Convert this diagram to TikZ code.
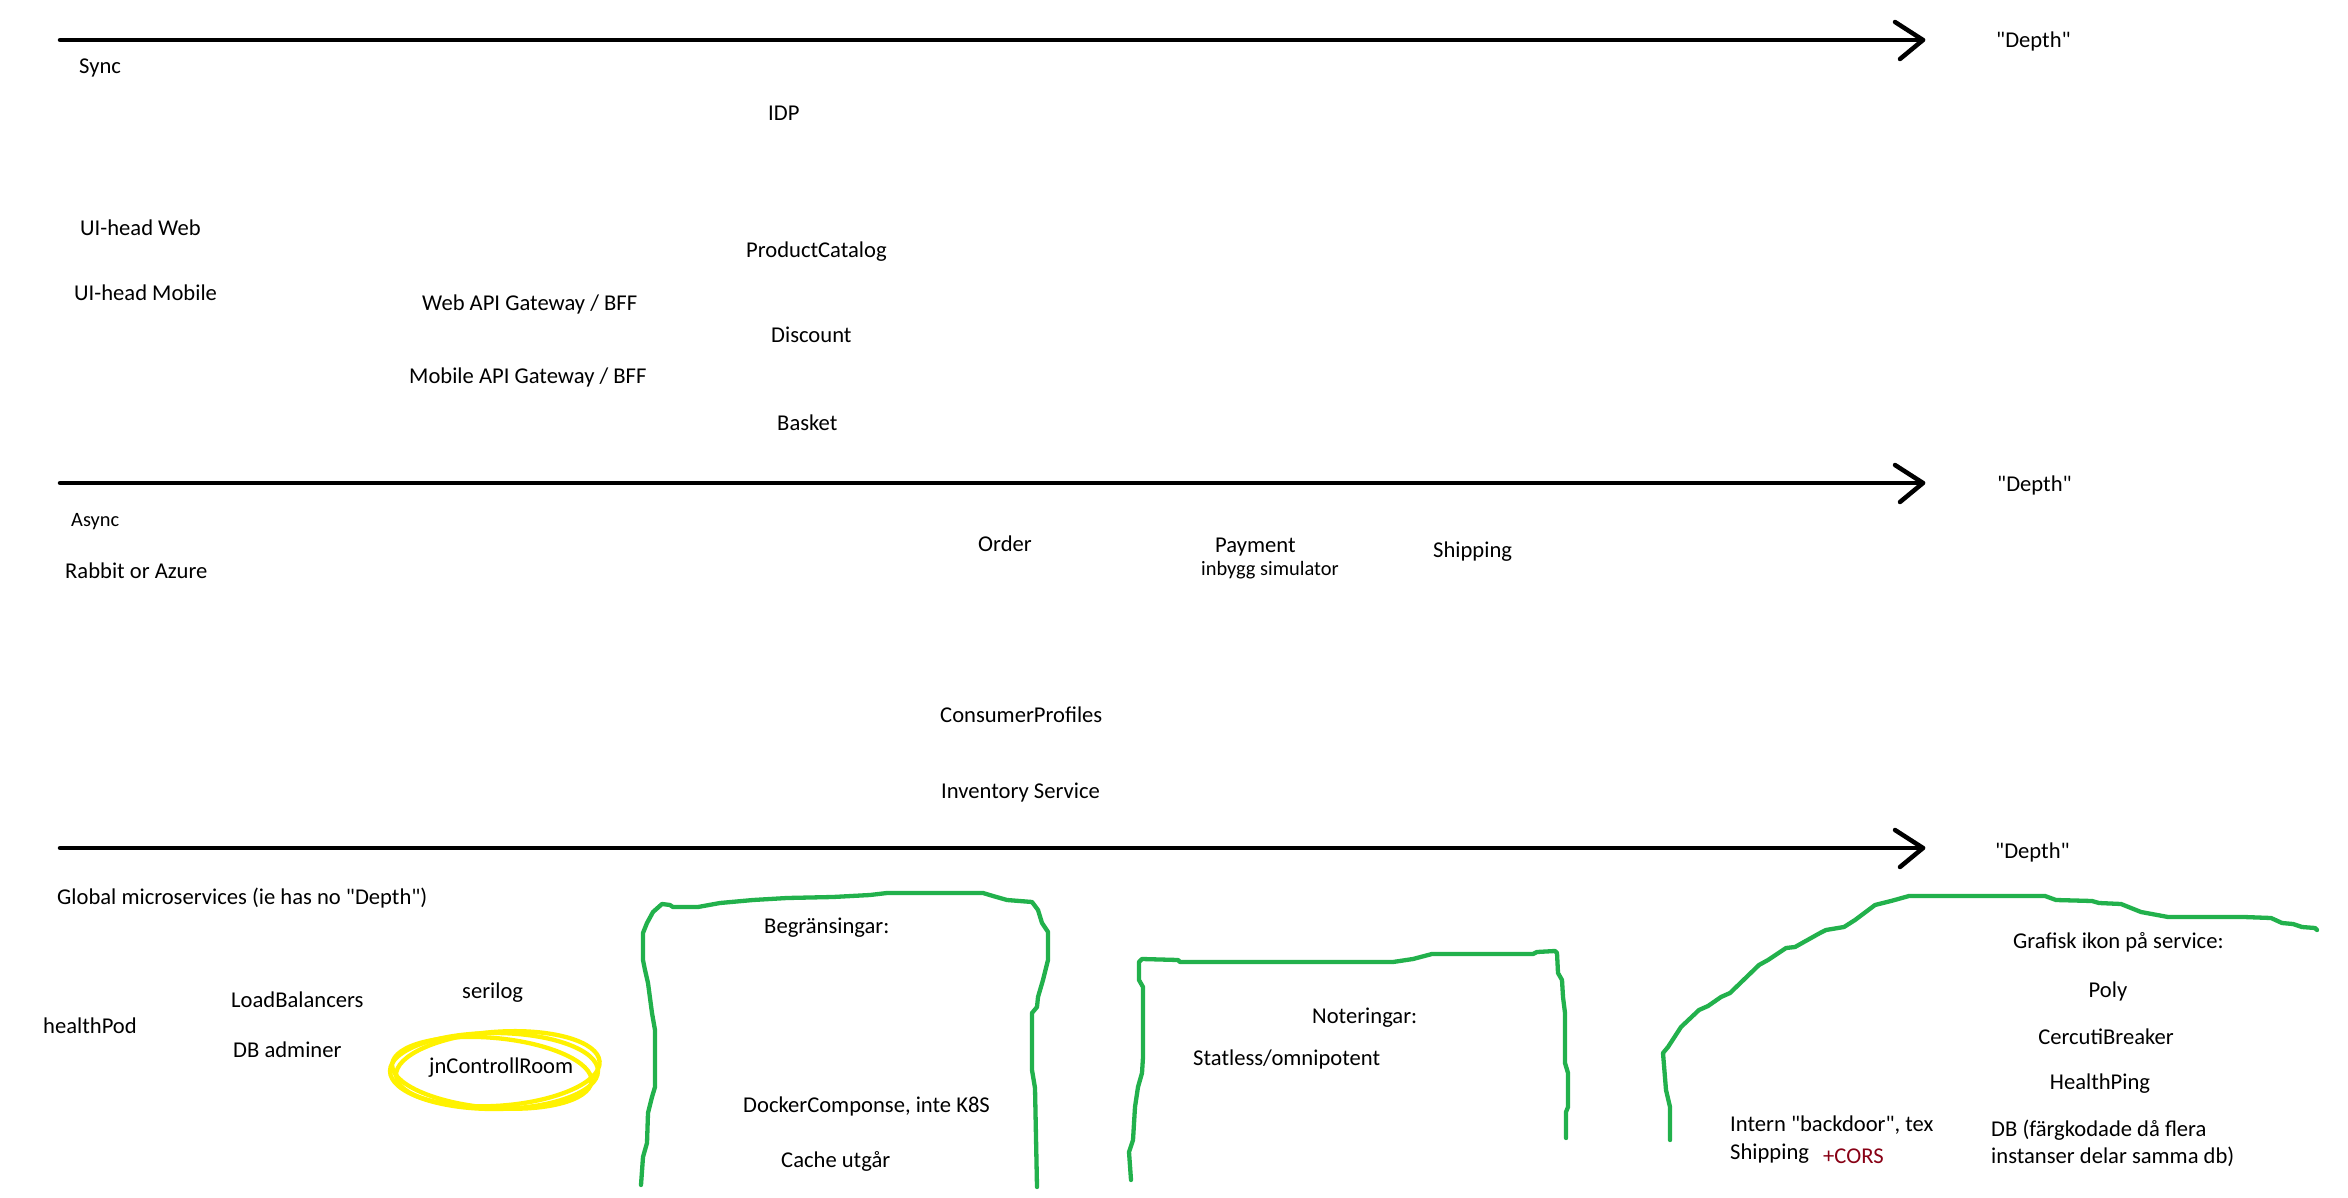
\documentclass[tikz,border=0pt]{standalone}
\usepackage{fontspec}
\setmainfont{Carlito}[Ligatures=TeXOff]
\definecolor{pgreen}{RGB}{34,177,76}
\definecolor{pyellow}{RGB}{255,242,0}
\definecolor{corsred}{RGB}{136,0,21}
\begin{document}
\begin{tikzpicture}[x=1pt,y=-1pt,
  lbl/.style={anchor=base west, inner sep=0pt, font=\fontsize{22.6}{26}\selectfont},
  smalllbl/.style={anchor=base west, inner sep=0pt, font=\fontsize{20.4}{24}\selectfont},
  axisline/.style={line width=4.5pt, line cap=round, line join=round},
  sketch/.style={draw=pgreen, line width=4.3pt, line cap=round, line join=round},
  hl/.style={draw=pyellow, line width=4.3pt}]
\fill[white] (0,0) rectangle (2348,1198);
\useasboundingbox (0,0) rectangle (2348,1198);

% axes
\coordinate (a1s) at (60,40);  \coordinate (a1e) at (1923,40);
\coordinate (a2s) at (60,483); \coordinate (a2e) at (1923,483);
\coordinate (a3s) at (60,848); \coordinate (a3e) at (1923,848);
\draw[axisline] (a1s) -- (a1e);
\draw[axisline] (a1e) ++(-28,-18) -- (a1e) -- ++(-23,19);
\draw[axisline] (a2s) -- (a2e);
\draw[axisline] (a2e) ++(-28,-18) -- (a2e) -- ++(-23,19);
\draw[axisline] (a3s) -- (a3e);
\draw[axisline] (a3e) ++(-28,-18) -- (a3e) -- ++(-23,19);

\node[lbl] (d1) at (1996,48) {"Depth"};
\node[lbl] (d2) at (1997,491) {"Depth"};
\node[lbl] (d3) at (1995,858) {"Depth"};

% sync section
\node[lbl] (sync) at (79,74) {Sync};
\node[lbl] (idp) at (768,121) {IDP};
\node[lbl] (uiweb) at (80,236) {UI-head Web};
\node[lbl] (prodcat) at (746,258) {ProductCatalog};
\node[lbl] (uimob) at (74,301) {UI-head Mobile};
\node[lbl] (webgw) at (422,311) {Web API Gateway / BFF};
\node[lbl] (disc) at (771,342) {Discount};
\node[lbl] (mobgw) at (409,383) {Mobile API Gateway / BFF};
\node[lbl] (basket) at (777,430) {Basket};

% async section
\node[smalllbl] (async) at (71,526) {Async};
\node[lbl] (order) at (978,551) {Order};
\node[lbl] (payment) at (1215,552) {Payment};
\node[smalllbl] (inbygg) at (1201,575) {inbygg simulator};
\node[lbl] (shipping) at (1433,557) {Shipping};
\node[lbl] (rabbit) at (65,578) {Rabbit or Azure};
\node[lbl] (consumer) at (940,722) {ConsumerProfiles};
\node[lbl] (inventory) at (941,798) {Inventory Service};

% global section
\node[lbl] (global) at (57,904) {Global microservices (ie has no "Depth")};
\node[lbl] (lb) at (231,1007) {LoadBalancers};
\node[lbl] (serilog) at (462,998) {serilog};
\node[lbl] (healthpod) at (43,1033) {healthPod};
\node[lbl] (dbadm) at (233,1057) {DB adminer};
\node[lbl] (jnctrl) at (429,1073) {jnControllRoom};

\draw[hl] (494,1071) ellipse [x radius=104, y radius=38];
\draw[hl, rotate around={-5:(494,1071)}] (492,1073) ellipse [x radius=100, y radius=35];
\draw[hl, rotate around={4:(494,1071)}] (498,1069) ellipse [x radius=102, y radius=37];

% Begränsingar box
\draw[sketch] (641,1185) -- (643,1157) -- (647,1143) -- (648,1113) -- (652,1097) -- (655,1087) -- (655,1030) -- (652,1013) -- (648,983) -- (645,970) -- (643,960) -- (643,933) -- (647,923) -- (653,912) -- (662,904) -- (670,905) -- (673,907) -- (698,907) -- (720,903) -- (753,900) -- (787,898) -- (833,897) -- (870,895) -- (887,893) -- (983,893) -- (993,896) -- (1007,900) -- (1032,902) -- (1038,910) -- (1042,923) -- (1048,932) -- (1048,960) -- (1043,980) -- (1038,997) -- (1037,1007) -- (1032,1013) -- (1032,1070) -- (1035,1088) -- (1037,1187);
\node[lbl] (begr) at (764,933) {Begränsingar:};
\node[lbl] (docker) at (743,1112) {DockerComponse, inte K8S};
\node[lbl] (cache) at (781,1167) {Cache utgår};

% Noteringar box
\draw[sketch] (1131,1180) -- (1129,1152) -- (1133,1140) -- (1135,1107) -- (1138,1087) -- (1142,1073) -- (1143,1057) -- (1143,987) -- (1139,980) -- (1139,962) -- (1142,959) -- (1178,960) -- (1180,962) -- (1393,962) -- (1413,959) -- (1432,954) -- (1533,954) -- (1537,952) -- (1555,951) -- (1557,953) -- (1558,973) -- (1562,980) -- (1563,997) -- (1565,1013) -- (1565,1063) -- (1568,1073) -- (1568,1107) -- (1566,1112) -- (1566,1138);
\node[lbl] (noter) at (1312,1023) {Noteringar:};
\node[lbl] (statless) at (1193,1065) {Statless/omnipotent};

% Grafisk ikon hill
\draw[sketch] (1670,1140) -- (1670,1107) -- (1666,1090) -- (1663,1053) -- (1668,1047) -- (1681,1027) -- (1699,1010) -- (1708,1006) -- (1721,997) -- (1730,993) -- (1759,965) -- (1768,960) -- (1786,948) -- (1795,947) -- (1820,933) -- (1826,930) -- (1844,927) -- (1855,920) -- (1875,905) -- (1891,901) -- (1909,896) -- (2045,896) -- (2056,900) -- (2092,901) -- (2099,903) -- (2121,904) -- (2141,912) -- (2168,917) -- (2244,917) -- (2271,918) -- (2282,923) -- (2293,924) -- (2302,927) -- (2315,928) -- (2317,930);
\node[lbl] (grafisk) at (2013,948) {Grafisk ikon på service:};
\node[lbl, anchor=base] (poly) at (2108,997) {Poly};
\node[lbl, anchor=base] (cbreak) at (2106,1044) {CercutiBreaker};
\node[lbl, anchor=base] (hping) at (2100,1089) {HealthPing};
\node[lbl] (intern) at (1730,1131) {Intern "backdoor", tex};
\node[lbl] (ship2) at (1730,1159) {Shipping};
\node[lbl, text=corsred] (cors) at (1823,1163) {+CORS};
\node[lbl] (db1) at (1991,1136) {DB (färgkodade då flera};
\node[lbl] (db2) at (1991,1163) {instanser delar samma db)};
\end{tikzpicture}
\end{document}
